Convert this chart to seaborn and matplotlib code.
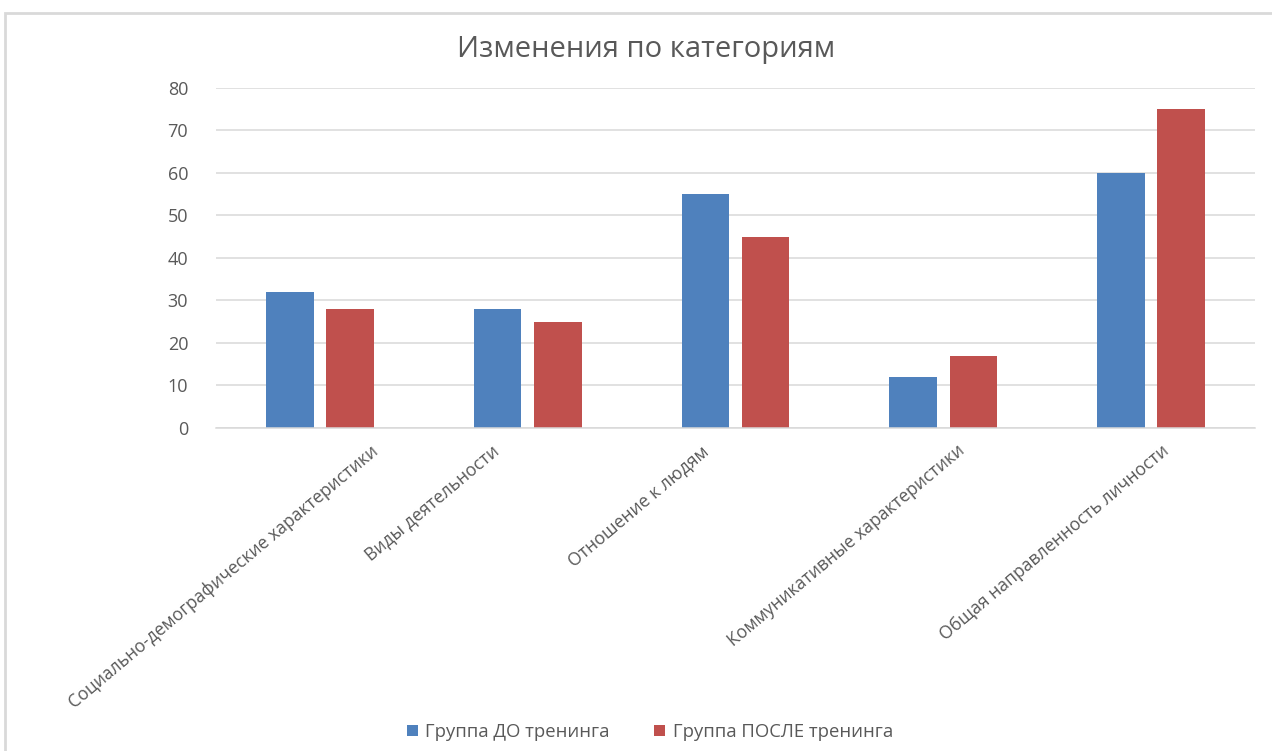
import matplotlib
matplotlib.use("Agg")
import matplotlib.pyplot as plt
import matplotlib.transforms as mtransforms
from matplotlib.patches import Rectangle
import seaborn as sns
import pandas as pd

categories = [
    "Социально-демографические характеристики",
    "Виды деятельности",
    "Отношение к людям",
    "Коммуникативные характеристики",
    "Общая направленность личности",
]
series_names = ["Группа ДО тренинга", "Группа ПОСЛЕ тренинга"]
before_values = [32, 28, 55, 12, 60]
after_values = [28, 25, 45, 17, 75]
y_ticks = [0, 10, 20, 30, 40, 50, 60, 70, 80]
title_text = "Изменения по категориям"

colors = ["#4F81BD", "#C0504D"]
label_dx_px = [62, -25, -23, 25, 21]  # layout offsets of the rotated labels

df = pd.DataFrame({
    "category": categories * 2,
    "value": before_values + after_values,
    "series": [series_names[0]] * len(categories) + [series_names[1]] * len(categories),
})

sns.set_style("white")
plt.rcParams["font.family"] = ["Open Sans", "DejaVu Sans"]
text_color = "#595959"

fig = plt.figure(figsize=(12.72, 7.51), dpi=100)
ax = fig.add_axes([216 / 1272, 1 - 428 / 751, (1255 - 216) / 1272, (428 - 88) / 751])

sns.barplot(data=df, x="category", y="value", hue="series", order=categories,
            hue_order=series_names, palette=colors, width=0.58, gap=0.21,
            saturation=1, ax=ax, legend=True, edgecolor="none")

ax.set_xlim(-0.5, len(categories) - 0.5)
ax.set_ylim(0, 80)
ax.set_yticks(y_ticks)
ax.yaxis.grid(True, color="#D9D9D9", linewidth=1.1)
ax.set_axisbelow(True)
for s in ["top", "right", "left"]:
    ax.spines[s].set_visible(False)
ax.spines["bottom"].set_color("#D9D9D9")
ax.spines["bottom"].set_linewidth(1.1)
ax.set_xlabel("")
ax.set_ylabel("")
ax.tick_params(axis="both", length=0, colors=text_color)
ax.tick_params(axis="y", pad=20, labelsize=13)

ax.set_xticks(range(len(categories)))
ax.set_xticklabels(categories, rotation=40, ha="right", va="top",
                   fontsize=12.7, color=text_color)
for lbl, dx in zip(ax.get_xticklabels(), label_dx_px):
    lbl.set_transform(lbl.get_transform() +
                      mtransforms.ScaledTranslation(dx / 100, -9 / 100, fig.dpi_scale_trans))

fig.text(0.508, 1 - 49 / 751, title_text, ha="center", va="center",
         fontsize=21, color=text_color)

handles, labels = ax.get_legend_handles_labels()
ax.legend_.remove()
fig.legend(handles, labels, loc="center", bbox_to_anchor=(650 / 1272, 1 - 732 / 751),
           ncol=2, frameon=False, fontsize=13.3, labelcolor=text_color,
           handlelength=0.6, handleheight=0.6, handletextpad=0.4, columnspacing=2.4)

fig.patches.append(Rectangle((5 / 1272, -0.1), 1.2, 1 - 13 / 751 + 0.1,
                             transform=fig.transFigure, fill=False,
                             edgecolor="#D9D9D9", linewidth=2))

fig.savefig("out.png", dpi=100)
